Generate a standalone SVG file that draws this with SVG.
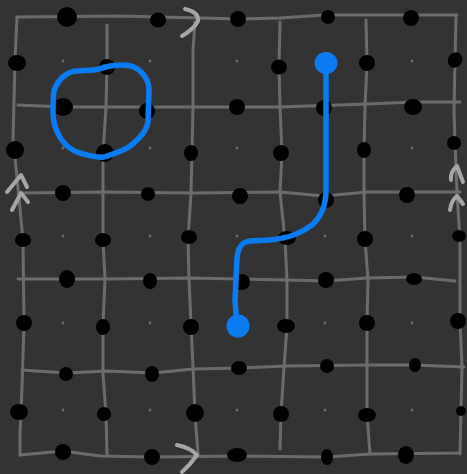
<svg xmlns="http://www.w3.org/2000/svg" width="467" height="474" viewBox="0 0 467 474">
<style>
.grid{fill:none;stroke:#6c6c6c;stroke-width:3;stroke-linecap:round;stroke-linejoin:round}
.arr{fill:none;stroke:#a6a6a6;stroke-width:4;stroke-linecap:round;stroke-linejoin:round}
.q{fill:#000}
.c{fill:#6e6e6e}
.blue{fill:none;stroke:#0a7cf2;stroke-width:5.5;stroke-linecap:round;stroke-linejoin:round}
.bluefill{fill:#0a7cf2}
</style>
<rect width="467" height="474" fill="#333333"/>
<g id="connectors">
<path class="grid" d="M17,17 L120,16 L240,19 L280,18 L324,15 L457,15"/>
<path class="grid" d="M17,17 L15,60 L13,140 L16,167 L23,240 L24,324 L22,387 L20,434 L20,455"/>
<path class="grid" d="M20,455 L63,451 L100,456 L152,457 L240,456 L327,457 L370,454 L460,453"/>
<path class="grid" d="M456,15 L454,110 L455,143 L457,193 L460,240 L460,321 L462,367 L460,454"/>
<path class="grid" d="M18,105 L63,107 L193,107 L280,107 L367,104 L414,102 L460,102"/>
<path class="grid" d="M20,193 L107,192 L193,193 L280,192 L324,196 L367,192 L460,192"/>
<path class="grid" d="M18,279 L107,279 L190,278 L240,279 L287,280 L326,281 L367,278 L414,277 L455,281"/>
<path class="grid" d="M22,370 L67,373 L107,371 L153,373 L193,369 L240,368 L287,366 L367,365 L414,365 L464,367"/>
<path class="grid" d="M107,25 L107,67 L106,107 L103,153 L103,193 L103,240 L105,279 L103,324 L103,374 L106,414 L107,454"/>
<path class="grid" d="M195,22 L193,50 L193,107 L192,153 L191,193 L188,240 L189,279 L191,324 L193,367 L195,414 L198,454"/>
<path class="grid" d="M280,22 L279,67 L280,107 L282,153 L280,192 L285,240 L287,280 L287,327 L284,367 L281,414 L280,449"/>
<path class="grid" d="M366,20 L367,63 L365,107 L364,150 L364,192 L365,240 L368,279 L367,323 L367,367 L367,414 L370,454"/>
</g>
<g id="boundary-arrows">
<path class="arr" d="M185,9 Q199,12 198,21 Q194,29 182,36"/>
<path class="arr" d="M177,445 Q191,448 197,455 Q190,465 182,472"/>
<path class="arr" d="M7,192 L21,175 L27,187"/>
<path class="arr" d="M12,210 L21,193 L28,202"/>
<path class="arr" d="M451,180 Q450,172 457,166 L463,182"/>
<path class="arr" d="M450,210 Q451,201 457,196 L463,204"/>
</g>
<g id="centers">
<circle class="c" cx="63" cy="61" r="1.4"/><circle class="c" cx="150" cy="61" r="1.4"/><circle class="c" cx="237" cy="61" r="1.4"/><circle class="c" cx="412" cy="61" r="1.4"/>
<circle class="c" cx="63" cy="148" r="1.4"/><circle class="c" cx="150" cy="148" r="1.4"/><circle class="c" cx="237" cy="148" r="1.4"/><circle class="c" cx="325" cy="148" r="1.4"/><circle class="c" cx="412" cy="148" r="1.4"/>
<circle class="c" cx="63" cy="236" r="1.4"/><circle class="c" cx="150" cy="236" r="1.4"/><circle class="c" cx="237" cy="236" r="1.4"/><circle class="c" cx="325" cy="236" r="1.4"/><circle class="c" cx="412" cy="236" r="1.4"/>
<circle class="c" cx="63" cy="323" r="1.4"/><circle class="c" cx="150" cy="323" r="1.4"/><circle class="c" cx="325" cy="323" r="1.4"/><circle class="c" cx="412" cy="323" r="1.4"/>
<circle class="c" cx="63" cy="410" r="1.4"/><circle class="c" cx="150" cy="410" r="1.4"/><circle class="c" cx="237" cy="410" r="1.4"/><circle class="c" cx="325" cy="410" r="1.4"/><circle class="c" cx="412" cy="410" r="1.4"/>
</g>
<g id="qubits">
<ellipse class="q" cx="67" cy="17" rx="10" ry="10"/><ellipse class="q" cx="158" cy="20" rx="8" ry="7.5"/><ellipse class="q" cx="238" cy="19" rx="8" ry="8"/><ellipse class="q" cx="328" cy="17" rx="7" ry="7"/><ellipse class="q" cx="411" cy="18" rx="8" ry="8"/>
<ellipse class="q" cx="17" cy="63" rx="9" ry="8"/><ellipse class="q" cx="107" cy="67" rx="8" ry="8"/><ellipse class="q" cx="279" cy="67" rx="8" ry="7.5"/><ellipse class="q" cx="367" cy="63" rx="8" ry="8"/><ellipse class="q" cx="455" cy="60" rx="7" ry="8" transform="rotate(30 455 60)"/>
<ellipse class="q" cx="63" cy="107" rx="10" ry="9"/><ellipse class="q" cx="147" cy="111" rx="8" ry="8"/><ellipse class="q" cx="237" cy="107" rx="8" ry="8"/><ellipse class="q" cx="324" cy="108" rx="8" ry="8"/><ellipse class="q" cx="413" cy="107" rx="9" ry="8"/>
<ellipse class="q" cx="15" cy="150" rx="9" ry="9"/><ellipse class="q" cx="105" cy="153" rx="9" ry="9"/><ellipse class="q" cx="191" cy="153" rx="7" ry="8"/><ellipse class="q" cx="281" cy="153" rx="8" ry="8"/><ellipse class="q" cx="364" cy="150" rx="7" ry="8"/><ellipse class="q" cx="454" cy="143" rx="7" ry="7"/>
<ellipse class="q" cx="63" cy="193" rx="8" ry="8"/><ellipse class="q" cx="148" cy="194" rx="7" ry="7"/><ellipse class="q" cx="240" cy="196" rx="8" ry="8"/><ellipse class="q" cx="326" cy="200" rx="8" ry="8"/><ellipse class="q" cx="407" cy="195" rx="8" ry="8"/>
<ellipse class="q" cx="23" cy="240" rx="8" ry="7"/><ellipse class="q" cx="103" cy="240" rx="8" ry="7"/><ellipse class="q" cx="189" cy="237" rx="8" ry="7"/><ellipse class="q" cx="287" cy="238" rx="9" ry="7"/><ellipse class="q" cx="365" cy="239" rx="8" ry="8"/><ellipse class="q" cx="459" cy="236" rx="7" ry="6"/>
<ellipse class="q" cx="67" cy="279" rx="8" ry="9"/><ellipse class="q" cx="150" cy="281" rx="7" ry="8"/><ellipse class="q" cx="242" cy="282" rx="8" ry="8"/><ellipse class="q" cx="326" cy="280" rx="8" ry="8"/><ellipse class="q" cx="414" cy="279" rx="8" ry="6"/>
<ellipse class="q" cx="24" cy="323" rx="8" ry="8"/><ellipse class="q" cx="103" cy="327" rx="7" ry="8"/><ellipse class="q" cx="191" cy="327" rx="8" ry="8"/><ellipse class="q" cx="286" cy="326" rx="9" ry="7"/><ellipse class="q" cx="367" cy="323" rx="8" ry="8"/><ellipse class="q" cx="458" cy="321" rx="8" ry="8"/>
<ellipse class="q" cx="66" cy="374" rx="7" ry="7"/><ellipse class="q" cx="152" cy="374" rx="7" ry="8"/><ellipse class="q" cx="239" cy="368" rx="8" ry="7"/><ellipse class="q" cx="327" cy="366" rx="7" ry="7"/><ellipse class="q" cx="415" cy="365" rx="6" ry="7"/>
<ellipse class="q" cx="19" cy="412" rx="9" ry="8"/><ellipse class="q" cx="104" cy="414" rx="7" ry="7"/><ellipse class="q" cx="195" cy="413" rx="9" ry="9"/><ellipse class="q" cx="281" cy="414" rx="8" ry="8"/><ellipse class="q" cx="367" cy="415" rx="9" ry="7"/><ellipse class="q" cx="461" cy="411" rx="5" ry="5"/>
<ellipse class="q" cx="63" cy="452" rx="8" ry="8"/><ellipse class="q" cx="152" cy="457" rx="8" ry="8"/><ellipse class="q" cx="237" cy="455" rx="10" ry="7"/><ellipse class="q" cx="327" cy="457" rx="6" ry="8"/><ellipse class="q" cx="406" cy="455" rx="8" ry="9"/>
</g>
<g id="loop">
<path class="blue" d="M77,71 C85,70 92,71 99,69 C107,66 115,65 123,65 C131,65 137,67 142,73 C147,78 149,83 149,90 L148,122 C147,128 144,133 139,138 C134,143 131,147 123,150 C117,153 110,155 104,157 C96,158 88,155 80,153 C72,151 66,146 61,139 C56,131 53,123 53,113 C53,105 53,98 54,91 C56,84 59,80 64,76 C68,73 72,71 77,71 Z"/>
</g>
<g id="string">
<path class="blue" d="M326,63 L326,150 L326,190 C326,205 322,216 312,225 C301,233 290,238 270,240 L250,241 C241,242 238,248 237,258 L235,300 L237,326"/>
<ellipse class="bluefill" cx="326" cy="63" rx="11.5" ry="11"/>
<ellipse class="bluefill" cx="238" cy="326" rx="11.5" ry="11.5"/>
</g>
</svg>
